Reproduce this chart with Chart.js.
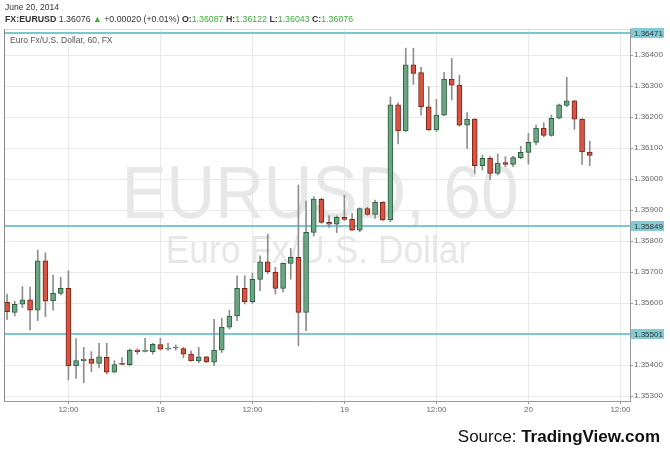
<!doctype html>
<html lang="en">
<head>
<meta charset="utf-8">
<title>EURUSD, 60</title>
<style>
  * { margin: 0; padding: 0; }
  body { background: #ffffff; }
  .chartBox { width: 670px; height: 454px; }
</style>
</head>
<body>
<div class="chartBox"><canvas id="myChart" width="670" height="454"></canvas></div>
<script src="https://cdn.jsdelivr.net/npm/chart.js/dist/chart.umd.min.js"></script>
<script>
// hourly candles, index 0 = 17 June 04:00, last = 20 June 08:00
const opens = [
  1.35602, 1.35570, 1.35596, 1.35610, 1.35577, 1.35736, 1.35607, 1.35631, 1.35647, 1.35397,
  1.35414, 1.35419, 1.35405, 1.35425, 1.35377, 1.35403, 1.35401, 1.35448, 1.35444, 1.35443,
  1.35466, 1.35451, 1.35455, 1.35453, 1.35435, 1.35413, 1.35426, 1.35409, 1.35448, 1.35522,
  1.35558, 1.35647, 1.35604, 1.35676, 1.35733, 1.35700, 1.35647, 1.35728, 1.35747, 1.35570,
  1.35828, 1.35935, 1.35860, 1.35854, 1.35876, 1.35870, 1.35835, 1.35905, 1.35886, 1.35925,
  1.35868, 1.36239, 1.36155, 1.36368, 1.36343, 1.36233, 1.36158, 1.36206, 1.36322, 1.36303,
  1.36174, 1.36193, 1.36043, 1.36067, 1.36018, 1.36053, 1.36047, 1.36069, 1.36086, 1.36118,
  1.36164, 1.36141, 1.36196, 1.36237, 1.36252, 1.36193, 1.36087
];
const highs = [
  1.35629, 1.35606, 1.35653, 1.35651, 1.35771, 1.35762, 1.35690, 1.35683, 1.35704, 1.35485,
  1.35457, 1.35443, 1.35470, 1.35470, 1.35414, 1.35424, 1.35452, 1.35452, 1.35486, 1.35470,
  1.35486, 1.35470, 1.35465, 1.35457, 1.35446, 1.35457, 1.35428, 1.35547, 1.35551, 1.35577,
  1.35688, 1.35688, 1.35696, 1.35752, 1.35822, 1.35715, 1.35730, 1.35776, 1.35981, 1.35929,
  1.35943, 1.35938, 1.35882, 1.35881, 1.35948, 1.35889, 1.35907, 1.35909, 1.35932, 1.35927,
  1.36265, 1.36246, 1.36422, 1.36422, 1.36360, 1.36298, 1.36257, 1.36344, 1.36389, 1.36335,
  1.36214, 1.36195, 1.36077, 1.36072, 1.36081, 1.36072, 1.36074, 1.36106, 1.36147, 1.36174,
  1.36182, 1.36206, 1.36242, 1.36328, 1.36254, 1.36195, 1.36122
];
const lows = [
  1.35547, 1.35558, 1.35585, 1.35513, 1.35543, 1.35556, 1.35577, 1.35626, 1.35352, 1.35357,
  1.35343, 1.35378, 1.35391, 1.35371, 1.35375, 1.35400, 1.35398, 1.35435, 1.35442, 1.35435,
  1.35448, 1.35448, 1.35448, 1.35423, 1.35412, 1.35407, 1.35407, 1.35398, 1.35440, 1.35516,
  1.35543, 1.35597, 1.35599, 1.35640, 1.35694, 1.35629, 1.35636, 1.35677, 1.35462, 1.35511,
  1.35816, 1.35857, 1.35844, 1.35827, 1.35866, 1.35833, 1.35830, 1.35883, 1.35873, 1.35865,
  1.35862, 1.36113, 1.36153, 1.36305, 1.36206, 1.36156, 1.36153, 1.36204, 1.36255, 1.36170,
  1.36099, 1.36018, 1.36029, 1.35998, 1.36013, 1.36040, 1.36040, 1.36065, 1.36048, 1.36110,
  1.36136, 1.36138, 1.36194, 1.36233, 1.36160, 1.36047, 1.36043
];
const closes = [
  1.35572, 1.35596, 1.35610, 1.35577, 1.35736, 1.35606, 1.35631, 1.35647, 1.35397, 1.35414,
  1.35419, 1.35405, 1.35426, 1.35377, 1.35401, 1.35402, 1.35447, 1.35443, 1.35445, 1.35467,
  1.35451, 1.35455, 1.35456, 1.35435, 1.35413, 1.35426, 1.35410, 1.35448, 1.35522, 1.35558,
  1.35647, 1.35604, 1.35676, 1.35733, 1.35701, 1.35647, 1.35728, 1.35747, 1.35570, 1.35828,
  1.35935, 1.35860, 1.35854, 1.35876, 1.35870, 1.35835, 1.35905, 1.35886, 1.35925, 1.35868,
  1.36239, 1.36155, 1.36368, 1.36341, 1.36233, 1.36158, 1.36206, 1.36322, 1.36303, 1.36174,
  1.36193, 1.36043, 1.36067, 1.36018, 1.36051, 1.36047, 1.36069, 1.36086, 1.36118, 1.36164,
  1.36141, 1.36196, 1.36239, 1.36252, 1.36193, 1.36087, 1.36076
];

const tickHours = [8, 20, 32, 44, 56, 68, 80];
const tickLabels = ['12:00', '18', '12:00', '19', '12:00', '20', '12:00'];
const priceTicks = [1.353, 1.354, 1.355, 1.356, 1.357, 1.358, 1.359, 1.360, 1.361, 1.362, 1.363, 1.364];
const levels = [1.36471, 1.35849, 1.35501];

const up = opens.map((o, i) => closes[i] >= o);
const bodies = opens.map((o, i) => ({ x: i, y: [o, closes[i]] }));
const wicks = lows.map((l, i) => ({ x: i, y: [l, highs[i]] }));

const FONT = '"Liberation Sans", Arial, sans-serif';

function runs(ctx, x, y, parts) {
  for (const p of parts) {
    ctx.font = p.f;
    ctx.fillStyle = p.c;
    ctx.fillText(p.t, x, y);
    x += ctx.measureText(p.t).width;
  }
}

const decorations = {
  id: 'decorations',
  beforeDatasetsDraw(chart) {
    const { ctx, chartArea: a, scales: { y } } = chart;
    ctx.save();
    // watermark
    ctx.fillStyle = '#e7e7e7';
    ctx.textAlign = 'center';
    ctx.textBaseline = 'alphabetic';
    ctx.font = '74px ' + FONT;
    ctx.translate(320, 218);
    ctx.scale(0.91, 1);
    ctx.fillText('EURUSD, 60', 0, 0);
    ctx.setTransform(1, 0, 0, 1, 0, 0);
    ctx.font = '38px ' + FONT;
    ctx.translate(318, 263);
    ctx.scale(0.93, 1);
    ctx.fillText('Euro Fx/U.S. Dollar', 0, 0);
    ctx.setTransform(1, 0, 0, 1, 0, 0);

    // level lines
    ctx.strokeStyle = '#79c7d2';
    ctx.lineWidth = 2;
    levels.forEach(v => {
      const py = Math.round(y.getPixelForValue(v));
      ctx.beginPath();
      ctx.moveTo(a.left, py);
      ctx.lineTo(a.right, py);
      ctx.stroke();
    });
    ctx.restore();
  },
  afterDraw(chart) {
    const { ctx, chartArea: a, scales: { y } } = chart;
    ctx.save();
    // frame left / top
    ctx.lineWidth = 1;
    ctx.strokeStyle = '#dddddd';
    ctx.beginPath();
    ctx.moveTo(a.left, a.top + 0.5);
    ctx.lineTo(a.right, a.top + 0.5);
    ctx.stroke();
    ctx.strokeStyle = '#8a8a8a';
    ctx.beginPath();
    ctx.moveTo(a.left + 0.5, a.top);
    ctx.lineTo(a.left + 0.5, a.bottom);
    ctx.stroke();

    // level labels on the price axis
    ctx.font = '8px ' + FONT;
    ctx.textBaseline = 'middle';
    ctx.textAlign = 'left';
    levels.forEach(v => {
      const py = Math.round(y.getPixelForValue(v));
      ctx.fillStyle = '#83ccd6';
      ctx.fillRect(a.right + 1, py - 5, 33, 10);
      ctx.fillStyle = '#333333';
      ctx.fillText(v.toFixed(5), a.right + 4, py + 0.5);
    });

    // header
    ctx.textBaseline = 'middle';
    ctx.fillStyle = '#333333';
    ctx.font = '8.5px ' + FONT;
    ctx.fillText('June 20, 2014', 5, 8);
    const n = opens.length - 1;
    const b = 'bold 8.8px ' + FONT, r = '8.8px ' + FONT, g = '#3fae3f', k = '#333333';
    runs(ctx, 5, 20, [
      { t: 'FX:EURUSD ', f: b, c: k },
      { t: closes[n].toFixed(5) + ' ', f: r, c: k },
      { t: '\u25B2 ', f: r, c: g },
      { t: '+0.00020 (+0.01%) ', f: r, c: k },
      { t: 'O:', f: b, c: k }, { t: opens[n].toFixed(5) + ' ', f: r, c: g },
      { t: 'H:', f: b, c: k }, { t: highs[n].toFixed(5) + ' ', f: r, c: g },
      { t: 'L:', f: b, c: k }, { t: lows[n].toFixed(5) + ' ', f: r, c: g },
      { t: 'C:', f: b, c: k }, { t: closes[n].toFixed(5), f: r, c: g }
    ]);

    // symbol caption
    ctx.font = '8.5px ' + FONT;
    ctx.fillStyle = '#555555';
    ctx.fillText('Euro Fx/U.S. Dollar, 60, FX', 10, 41);

    // source
    ctx.textBaseline = 'alphabetic';
    ctx.textAlign = 'right';
    ctx.fillStyle = '#111111';
    ctx.font = 'bold 17px ' + FONT;
    ctx.fillText('TradingView.com', 660, 442);
    const w = ctx.measureText('TradingView.com').width;
    ctx.font = '17px ' + FONT;
    ctx.fillText('Source: ', 660 - w, 442);
    ctx.restore();
  }
};

const data = {
  datasets: [
    {
      label: 'body',
      order: 0,
      data: bodies,
      backgroundColor: up.map(u => u ? '#6ba583' : '#d75442'),
      borderColor: up.map(u => u ? '#2b5f3e' : '#7a2216'),
      borderWidth: 1,
      borderSkipped: false,
      barThickness: 5,
      minBarLength: 1,
      grouped: false
    },
    {
      label: 'wick',
      order: 1,
      data: wicks,
      backgroundColor: '#8e8e8e',
      barThickness: 1,
      grouped: false
    }
  ]
};

const config = {
  type: 'bar',
  data,
  options: {
    responsive: false,
    animation: false,
    layout: { padding: { left: 4, top: 29, right: 0, bottom: 0 } },
    plugins: { legend: { display: false }, tooltip: { enabled: false } },
    scales: {
      x: {
        type: 'linear',
        offset: false,
        min: -0.4,
        max: 81.25,
        afterBuildTicks: s => { s.ticks = tickHours.map(v => ({ value: v })); },
        afterFit: s => { s.height = 53; },
        ticks: {
          callback: (v, i) => tickLabels[i],
          autoSkip: false,
          maxRotation: 0,
          padding: 1,
          color: '#666666',
          font: { size: 8, family: FONT }
        },
        grid: { offset: false, color: '#e9e9e9', tickLength: 3, tickColor: '#999999' },
        border: { color: '#9a9a9a' }
      },
      y: {
        type: 'linear',
        position: 'right',
        min: 1.352839,
        max: 1.364839,
        afterBuildTicks: s => { s.ticks = priceTicks.map(v => ({ value: v })); },
        afterFit: s => { s.width = 40; },
        ticks: {
          callback: v => v.toFixed(5),
          padding: 1,
          color: '#666666',
          font: { size: 8, family: FONT }
        },
        grid: { color: '#e9e9e9', tickLength: 3, tickColor: '#999999' },
        border: { color: '#9a9a9a' }
      }
    }
  },
  plugins: [decorations]
};

const myChart = new Chart(document.getElementById('myChart'), config);
</script>
</body>
</html>
